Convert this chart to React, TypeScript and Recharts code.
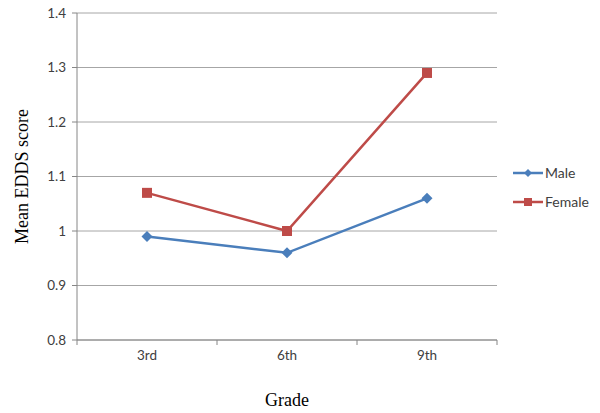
import React from "react";
import {
  LineChart,
  Line,
  XAxis,
  YAxis,
  CartesianGrid,
} from "recharts";

const grades = ["3rd", "6th", "9th"];
const male = [0.99, 0.96, 1.06];
const female = [1.07, 1.0, 1.29];
const yTicks = [0.8, 0.9, 1.0, 1.1, 1.2, 1.3, 1.4];

const data = grades.map((g, i) => ({
  pos: i + 0.5,
  grade: g,
  male: male[i],
  female: female[i],
}));

const xTicks = [0, 0.5, 1, 1.5, 2, 2.5, 3];

const LABEL_FONT = "Lato, 'Open Sans', sans-serif";
const TITLE_FONT = "'Liberation Serif', 'DejaVu Serif', serif";
const AXIS = "#868686";
const BLUE = "#4A7EBB";
const RED = "#BE4B48";

function XTick(props: any) {
  const { x, y, payload } = props;
  const v = payload.value;
  if (Number.isInteger(v)) {
    return <line x1={x} x2={x} y1={y - 8} y2={y - 3} stroke={AXIS} />;
  }
  return (
    <text
      x={x}
      y={y + 12}
      textAnchor="middle"
      fontFamily={LABEL_FONT}
      fontSize={13.5}
      fill="#404040"
    >
      {grades[Math.floor(v)]}
    </text>
  );
}

function Diamond(props: any) {
  const { cx, cy } = props;
  if (cx == null || cy == null) return null;
  const r = 5.5;
  return (
    <path
      d={`M${cx},${cy - r}L${cx + r},${cy}L${cx},${cy + r}L${cx - r},${cy}Z`}
      fill={BLUE}
    />
  );
}

function Square(props: any) {
  const { cx, cy } = props;
  if (cx == null || cy == null) return null;
  const r = 5;
  return <rect x={cx - r} y={cy - r} width={2 * r} height={2 * r} fill={RED} />;
}

function LegendBox() {
  const items = [
    { name: "Male", color: BLUE, shape: "d" },
    { name: "Female", color: RED, shape: "s" },
  ];
  return (
    <svg
      width={90}
      height={60}
      style={{ position: "absolute", left: 511, top: 163 }}
    >
      {items.map((it, i) => {
        const cy = 10 + i * 29;
        return (
          <g key={it.name}>
            <line x1={2} x2={32} y1={cy} y2={cy} stroke={it.color} strokeWidth={2.5} />
            {it.shape === "d" ? (
              <path d={`M17,${cy - 4}L21,${cy}L17,${cy + 4}L13,${cy}Z`} fill={it.color} />
            ) : (
              <rect x={13} y={cy - 4} width={8} height={8} fill={it.color} />
            )}
            <text
              x={34}
              y={cy + 5}
              fontFamily={LABEL_FONT}
              fontSize={14}
              fill="#404040"
            >
              {it.name}
            </text>
          </g>
        );
      })}
    </svg>
  );
}

export default function App() {
  return (
    <div
      style={{
        position: "absolute",
        left: 0,
        top: 0,
        width: 600,
        height: 413,
        background: "#fff",
      }}
    >
      <LineChart
        width={600}
        height={413}
        data={data}
        margin={{ top: 13, right: 103, bottom: 0, left: 0 }}
      >
        <CartesianGrid vertical={false} stroke="#a6a6a6" />
        <XAxis
          dataKey="pos"
          type="number"
          domain={[0, 3]}
          ticks={xTicks}
          interval={0}
          height={73}
          stroke={AXIS}
          tickLine={false}
          tick={<XTick />}
          label={{
            value: "Grade",
            position: "insideBottom",
            offset: 7,
            style: { fontFamily: TITLE_FONT, fontSize: 18, fill: "#000" },
          }}
        />
        <YAxis
          domain={[0.8, 1.4]}
          ticks={yTicks}
          interval={0}
          width={77}
          stroke={AXIS}
          tickSize={5}
          tickMargin={6}
          tickFormatter={(v: number) => String(Number(v.toFixed(1)))}
          tick={{ fontFamily: LABEL_FONT, fontSize: 13.5, fill: "#404040" }}
          label={{
            value: "Mean EDDS score",
            angle: -90,
            position: "insideLeft",
            offset: 22,
            style: {
              fontFamily: TITLE_FONT,
              fontSize: 18,
              fill: "#000",
              textAnchor: "middle",
            },
          }}
        />
        <Line
          dataKey="male"
          name="Male"
          stroke={BLUE}
          strokeWidth={2.5}
          dot={<Diamond />}
          activeDot={false}
          isAnimationActive={false}
        />
        <Line
          dataKey="female"
          name="Female"
          stroke={RED}
          strokeWidth={2.5}
          dot={<Square />}
          activeDot={false}
          isAnimationActive={false}
        />
      </LineChart>
      <LegendBox />
    </div>
  );
}
